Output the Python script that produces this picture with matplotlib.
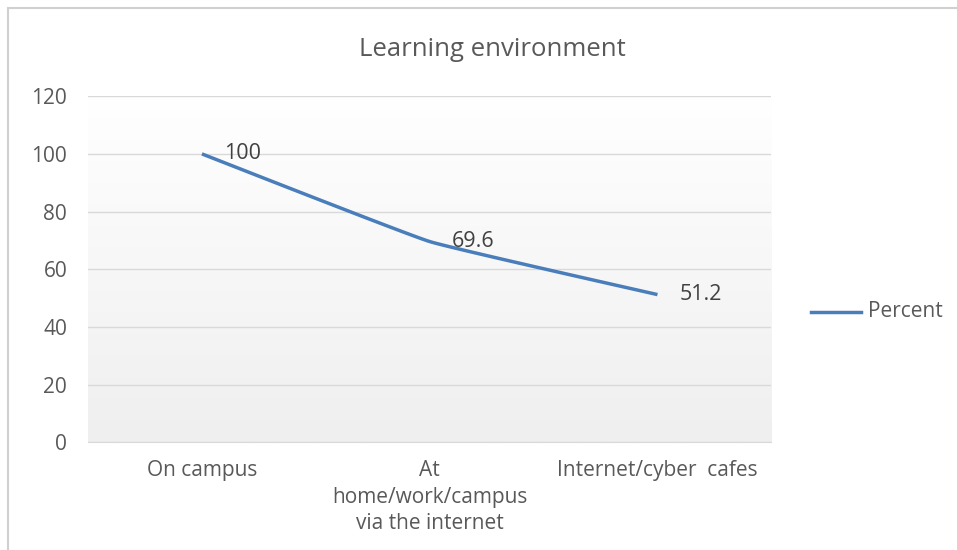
import numpy as np
import matplotlib
matplotlib.use('Agg')
import matplotlib.pyplot as plt
from matplotlib.lines import Line2D
from matplotlib.patches import Rectangle

categories = ['On campus', 'At\nhome/work/campus\nvia the internet', 'Internet/cyber  cafes']
percent = [100, 69.6, 51.2]
labels = ['100', '69.6', '51.2']
yticks = [0, 20, 40, 60, 80, 100, 120]

plt.rcParams['font.family'] = ['Open Sans', 'DejaVu Sans']
txt = '#595959'
blue = '#4a7ebb'


def smooth(xs, ys, n=40, k=0.3):
    # light bezier smoothing, like the spreadsheet "smoothed line"
    xs = np.asarray(xs, float)
    ys = np.asarray(ys, float)
    px = np.concatenate([[xs[0]], xs, [xs[-1]]])
    py = np.concatenate([[ys[0]], ys, [ys[-1]]])
    outx, outy = [], []
    for i in range(1, len(px) - 2):
        t = np.linspace(0, 1, n)
        p0, p1, p2, p3 = [np.array([px[j], py[j]]) for j in range(i - 1, i + 3)]
        c1 = p1 + (p2 - p0) / 6 * k
        c2 = p2 - (p3 - p1) / 6 * k
        b = ((1 - t) ** 3)[:, None] * p1 + (3 * (1 - t) ** 2 * t)[:, None] * c1 \
            + (3 * (1 - t) * t ** 2)[:, None] * c2 + (t ** 3)[:, None] * p2
        outx.extend(b[:, 0])
        outy.extend(b[:, 1])
    return outx, outy


fig = plt.figure(figsize=(9.57, 5.5), dpi=100)
fig.patches.append(Rectangle((0.008, -0.01), 1.1, 0.995, transform=fig.transFigure,
                             fill=False, edgecolor='#d0d0d0', lw=1.5))

ax = fig.add_axes([0.092, 0.196, 0.714, 0.629])
x = np.arange(len(categories))

# gradient background, white at top to light grey at bottom
grad = np.linspace(0, 1, 256)[:, None]
cmap = matplotlib.colors.LinearSegmentedColormap.from_list('bg', ['#ffffff', '#efefef'])
ax.imshow(grad, extent=[-0.5, 2.5, 0, 120], origin='upper', aspect='auto', cmap=cmap, zorder=0)

sx, sy = smooth(x, percent)
ax.plot(sx, sy, color=blue, lw=2.5, zorder=3, solid_capstyle='butt')
for xi, yi, lb in zip(x, percent, labels):
    ax.annotate(lb, (xi, yi), xytext=(16, 0), textcoords='offset points',
                ha='left', va='center', fontsize=15.5, color='#404040', zorder=4)

ax.set_xlim(-0.5, 2.5)
ax.set_ylim(0, 120)
ax.set_yticks(yticks)
ax.set_xticks(x)
ax.set_xticklabels(categories, fontsize=15, color=txt, linespacing=1.33)
ax.tick_params(axis='y', length=0, pad=15, labelsize=15, labelcolor=txt)
ax.tick_params(axis='x', length=0, pad=13)
ax.yaxis.grid(True, color='#d9d9d9', lw=1)
ax.set_axisbelow(True)
for s in ['top', 'right', 'left']:
    ax.spines[s].set_visible(False)
ax.spines['bottom'].set_color('#d9d9d9')

fig.text(0.514, 0.91, 'Learning environment', ha='center', va='center',
         fontsize=18.5, color=txt)

fig.lines.append(Line2D([0.847, 0.900], [0.433, 0.433], transform=fig.transFigure,
                        color=blue, lw=2.5))
fig.text(0.907, 0.433, 'Percent', ha='left', va='center', fontsize=15, color=txt)

fig.savefig('out.png', dpi=100)
